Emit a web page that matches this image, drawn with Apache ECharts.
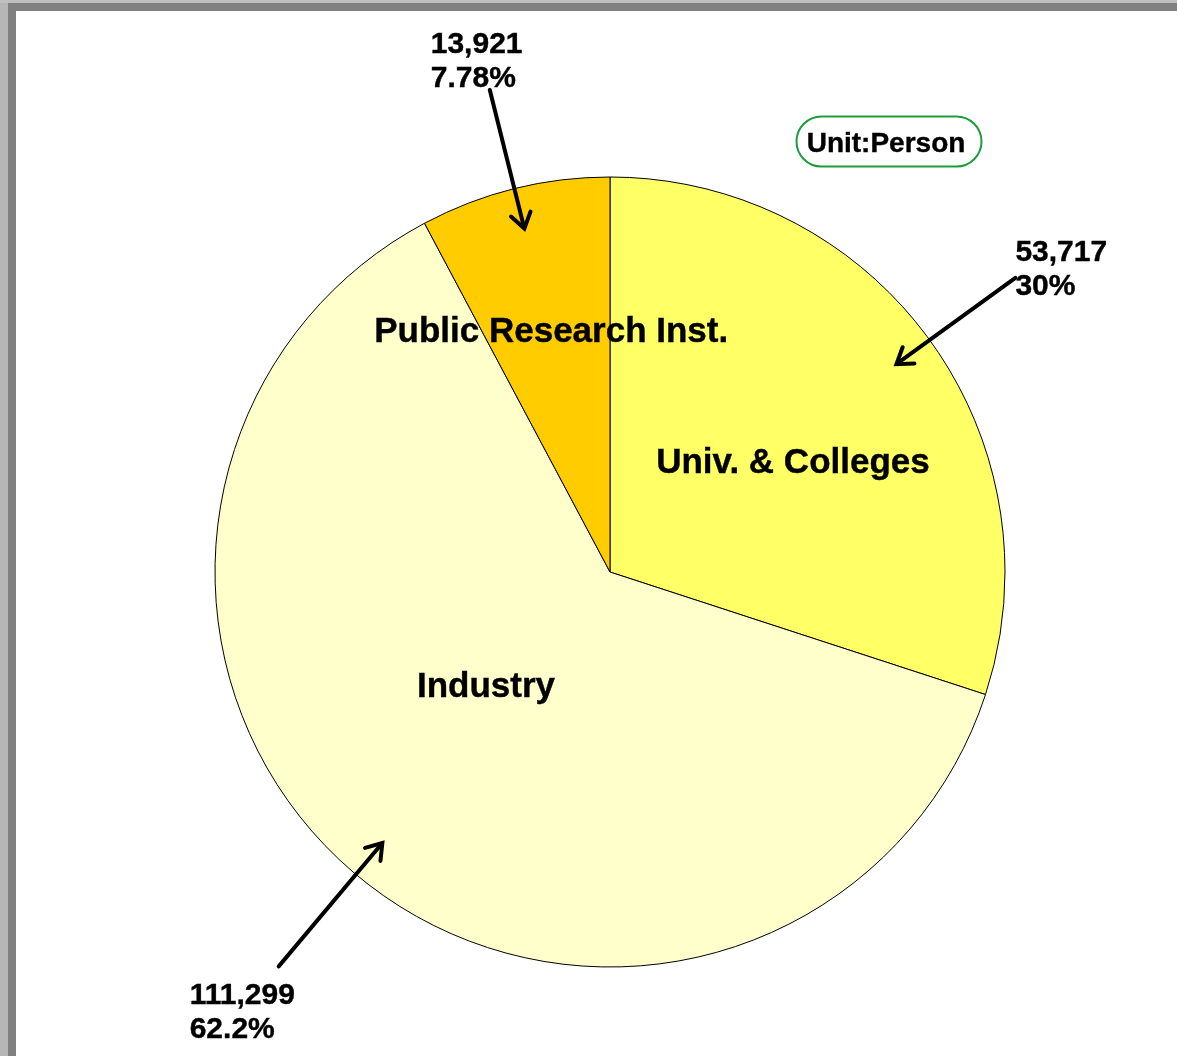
<!DOCTYPE html>
<html>
<head>
<meta charset="utf-8">
<script src="https://cdn.jsdelivr.net/npm/echarts@6/dist/echarts.min.js"></script>
<style>
  html, body { margin: 0; padding: 0; background: #fff; width: 1177px; height: 1056px; overflow: hidden; }
  #chart { position: absolute; left: 0; top: 0; width: 1177px; height: 1056px; }
  .edge { position: absolute; }
</style>
</head>
<body>
<div id="chart"></div>
<!-- window frame -->
<div class="edge" style="left:0;top:0;width:8px;height:1056px;background:#b6b6b6"></div>
<div class="edge" style="left:0;top:0;width:1177px;height:3px;background:#c0c0c0"></div>
<div class="edge" style="left:8px;top:3px;width:1169px;height:8px;background:#808080"></div>
<div class="edge" style="left:8px;top:3px;width:8px;height:1053px;background:#808080"></div>
<script>
// Researchers by sector
const categories = ['Univ. & Colleges', 'Industry', 'Public Research Inst.'];
const researchers = [53717, 111299, 13921];
const unitLabel = 'Unit:Person';

// Layout and styling
const CX = 610, CY = 572, R = 395;
const FONT = '"Liberation Sans", Arial, sans-serif';
const sliceColors = ['#FFFF66', '#FFFFCC', '#FFCC00'];
// name label placement: angle shift from slice middle (deg) and radius fraction
const nameLabelPlace = [[-4.5, 0.543], [-7.9, 0.423], [-0.4, 0.633]];
const nameLabelNudgeY = 3;
// callout arrows: tail radius fraction, tip radius fraction
const arrowTail = [1.268, 1.304, 1.258];
const arrowTip = 0.896;
// callout text offset from the arrow tail (left, top)
const calloutOffset = [[0, -42], [-89, 12], [-59, -62]];

const total = researchers.reduce((a, b) => a + b, 0);
const midAngles = [];
let cum = 0;
researchers.forEach(v => {
  const f = v / total;
  midAngles.push(90 - 360 * (cum + f / 2));
  cum += f;
});

function polar(angleDeg, r) {
  const a = angleDeg * Math.PI / 180;
  return [CX + r * Math.cos(a), CY - r * Math.sin(a)];
}

const graphics = [];
researchers.forEach((v, i) => {
  const tail = polar(midAngles[i], R * arrowTail[i]);
  const tip = polar(midAngles[i], R * arrowTip);
  const dx = tip[0] - tail[0], dy = tip[1] - tail[1];
  const len = Math.hypot(dx, dy);
  const ux = dx / len, uy = dy / len;
  const wing = 18, spread = 34 * Math.PI / 180;
  const w1 = [tip[0] - wing * (ux * Math.cos(spread) - uy * Math.sin(spread)),
              tip[1] - wing * (ux * Math.sin(spread) + uy * Math.cos(spread))];
  const w2 = [tip[0] - wing * (ux * Math.cos(-spread) - uy * Math.sin(-spread)),
              tip[1] - wing * (ux * Math.sin(-spread) + uy * Math.cos(-spread))];
  graphics.push({
    type: 'line', z: 100,
    shape: { x1: tail[0], y1: tail[1], x2: tip[0] - ux * 2, y2: tip[1] - uy * 2 },
    style: { stroke: '#000', lineWidth: 4, lineCap: 'round' }
  });
  graphics.push({
    type: 'polyline', z: 100,
    shape: { points: [w1, tip, w2] },
    style: { stroke: '#000', lineWidth: 4, fill: null, lineJoin: 'miter', lineCap: 'round' }
  });
  const pct = Number((v / total * 100).toPrecision(3));
  graphics.push({
    type: 'text', z: 100,
    x: tail[0] + calloutOffset[i][0],
    y: tail[1] + calloutOffset[i][1],
    style: {
      text: v.toLocaleString('en-US') + '\n' + pct + '%',
      fontFamily: FONT, fontSize: 30, fontWeight: 'bold',
      lineHeight: 34, fill: '#000', align: 'left', verticalAlign: 'top',
      stroke: '#000', lineWidth: 0.4
    }
  });
});

// unit badge
graphics.push({
  type: 'rect', z: 100,
  shape: { x: 796.5, y: 116.5, width: 185, height: 50, r: 25 },
  style: { fill: '#fff', stroke: '#1e9b3e', lineWidth: 2 }
});
graphics.push({
  type: 'text', z: 101, x: 886, y: 144,
  style: {
    text: unitLabel, fontFamily: FONT, fontSize: 28, fontWeight: 'bold',
    fill: '#000', align: 'center', verticalAlign: 'middle',
    stroke: '#000', lineWidth: 0.4
  }
});

const chart = echarts.init(document.getElementById('chart'), null, { renderer: 'canvas' });
chart.setOption({
  backgroundColor: 'transparent',
  animation: false,
  series: [{
    type: 'pie',
    center: [CX, CY],
    radius: R,
    startAngle: 90,
    clockwise: true,
    silent: true,
    avoidLabelOverlap: false,
    data: categories.map((name, i) => ({
      name: name, value: researchers[i], itemStyle: { color: sliceColors[i] }
    })),
    itemStyle: { borderColor: '#000', borderWidth: 1 },
    label: {
      show: true, position: 'inside', formatter: '{b}',
      color: '#000', fontFamily: FONT, fontSize: 35, fontWeight: 'bold',
      textBorderColor: '#000', textBorderWidth: 0.4
    },
    labelLine: { show: false },
    labelLayout: function (p) {
      const i = p.dataIndex;
      const pos = polar(midAngles[i] + nameLabelPlace[i][0], R * nameLabelPlace[i][1]);
      return { x: pos[0], y: pos[1] + nameLabelNudgeY, align: 'center', verticalAlign: 'middle' };
    },
    emphasis: { disabled: true }
  }],
  graphic: { elements: graphics }
});
</script>
</body>
</html>
